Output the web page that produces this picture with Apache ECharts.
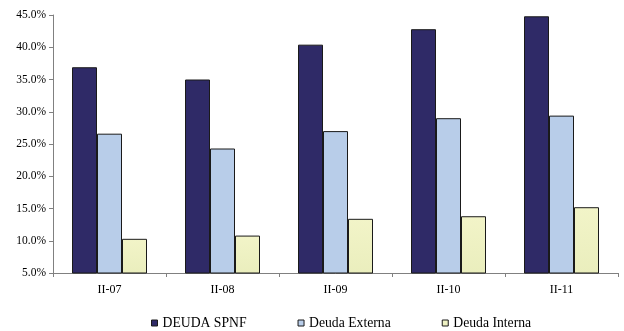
<!DOCTYPE html>
<html>
<head>
<meta charset="utf-8">
<script src="https://cdn.jsdelivr.net/npm/echarts@6/dist/echarts.min.js"></script>
<style>
  html, body { margin: 0; padding: 0; background: #fff; }
  #chart { width: 624px; height: 331px; }
</style>
</head>
<body>
<div id="chart"></div>
<script>
// Quarters shown on the category axis
const periods = ['II-07', 'II-08', 'II-09', 'II-10', 'II-11'];

// Debt as a percentage of GDP
const deudaSPNF = [36.9, 35.0, 40.4, 42.8, 44.8];
const deudaExterna = [26.6, 24.3, 27.0, 29.0, 29.4];
const deudaInterna = [10.3, 10.8, 13.4, 13.8, 15.2];

const seriesNames = ['DEUDA SPNF', 'Deuda Externa', 'Deuda Interna'];

const fontFamily = '"Liberation Serif", "DejaVu Serif", serif';

const chart = echarts.init(document.getElementById('chart'), null, { renderer: 'canvas' });

function barSeries(name, data, color) {
  return {
    name: name,
    type: 'bar',
    data: data,
    barWidth: 25,
    barGap: '0%',
    itemStyle: { color: color, borderColor: '#1a1a1a', borderWidth: 1 }
  };
}

chart.setOption({
  animation: false,
  backgroundColor: '#ffffff',
  grid: { left: 53, right: 6, top: 15, bottom: 58, containLabel: false },
  legend: {
    data: seriesNames,
    left: 151,
    top: 316,
    padding: 0,
    icon: 'rect',
    itemWidth: 6,
    itemHeight: 6,
    itemGap: 51,
    textStyle: { fontFamily: fontFamily, fontSize: 13.7, color: '#000' },
    itemStyle: { borderColor: '#1a1a1a', borderWidth: 1 }
  },
  xAxis: {
    type: 'category',
    data: periods,
    axisLine: { lineStyle: { color: '#808080', width: 1 } },
    axisTick: { show: true, length: 4, lineStyle: { color: '#808080' } },
    axisLabel: { fontFamily: fontFamily, fontSize: 12, color: '#000', margin: 11 },
    splitLine: { show: false }
  },
  yAxis: {
    type: 'value',
    min: 5,
    max: 45,
    interval: 5,
    axisLine: { show: true, lineStyle: { color: '#808080', width: 1 } },
    axisTick: { show: true, length: 4, lineStyle: { color: '#808080' } },
    axisLabel: {
      fontFamily: fontFamily,
      fontSize: 11.5,
      color: '#000',
      margin: 7,
      formatter: v => v.toFixed(1) + '%'
    },
    splitLine: { show: false }
  },
  series: [
    barSeries(seriesNames[0], deudaSPNF, '#2f2a67'),
    barSeries(seriesNames[1], deudaExterna, '#b8cde9'),
    barSeries(seriesNames[2], deudaInterna, new echarts.graphic.LinearGradient(0, 0, 0, 1, [
      { offset: 0, color: '#f2f4c8' },
      { offset: 1, color: '#eaeebd' }
    ]))
  ]
});
</script>
</body>
</html>
